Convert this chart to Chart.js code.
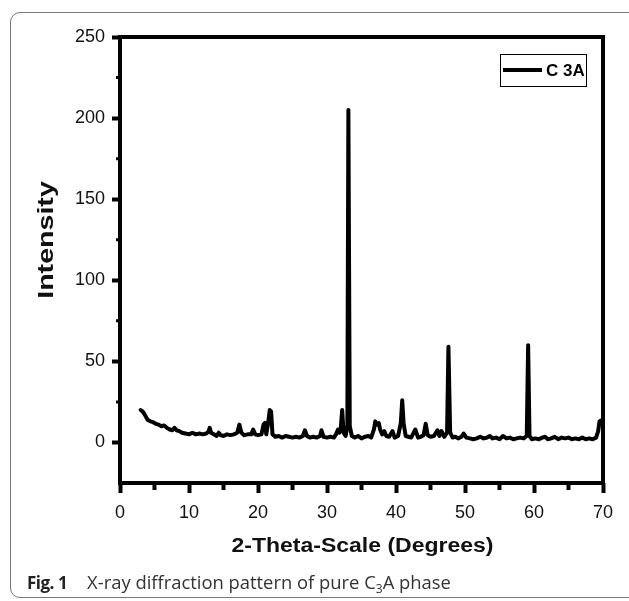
<!DOCTYPE html>
<html>
<head>
<meta charset="utf-8">
<script src="https://cdn.jsdelivr.net/npm/chart.js@4"></script>
<style>
  html, body { margin: 0; padding: 0; background: #fff; }
  body { width: 629px; height: 601px; position: relative; overflow: hidden; }
  #card { position: absolute; left: 10px; top: 12px; width: 660px; height: 586px; border: 1px solid #777; border-radius: 10px; box-sizing: border-box; }
  #wrap { position: absolute; left: 0; top: 0; width: 629px; height: 601px; }
  #caption { position: absolute; left: 27px; top: 569px; font-family: "Open Sans", sans-serif; font-size: 18.4px; color: #333; white-space: nowrap; }
  #caption b { color: #222; font-size: 17px; letter-spacing: -0.5px; margin-right: 20px; }
  #caption sub { font-size: 12px; vertical-align: -4px; line-height: 0; }
</style>
</head>
<body>
<div id="card"></div>
<div id="wrap"><canvas id="c"></canvas></div>
<div id="caption"><b>Fig. 1</b>X-ray diffraction pattern of pure C<sub>3</sub>A phase</div>
<script>
const seriesLabel = "C 3A";
const xTitle = "2-Theta-Scale (Degrees)";
const yTitle = "Intensity";
const theta = [
  3.0, 3.3, 3.6, 4.0, 4.4, 4.8, 5.2, 5.6, 6.0, 6.4, 6.8, 7.2, 7.6, 7.9, 8.2, 8.6, 9.0, 9.5, 10.0, 10.5,
  11.0, 11.5, 12.0, 12.5, 12.8, 13.0, 13.2, 13.6, 14.0, 14.3, 14.6, 15.0, 15.5, 16.0, 16.5, 17.0, 17.3, 17.6, 18.0, 18.5,
  19.0, 19.3, 19.6, 20.0, 20.5, 20.8, 21.0, 21.2, 21.5, 21.7, 21.9, 22.1, 22.5, 23.0, 23.5, 24.0, 24.5, 25.0, 25.5, 26.0,
  26.5, 26.8, 27.1, 27.5, 28.0, 28.5, 29.0, 29.2, 29.5, 30.0, 30.5, 31.0, 31.3, 31.6, 31.8, 32.0, 32.2, 32.4, 32.7, 32.95,
  33.1, 33.3, 33.6, 34.0, 34.5, 35.0, 35.5, 36.0, 36.4, 36.8, 37.0, 37.2, 37.5, 37.7, 38.0, 38.3, 38.6, 39.0, 39.5, 39.8,
  40.3, 40.7, 40.9, 41.1, 41.4, 41.8, 42.2, 42.8, 43.2, 43.6, 44.0, 44.3, 44.6, 45.0, 45.5, 46.0, 46.3, 46.6, 47.0, 47.4,
  47.6, 47.85, 48.2, 48.6, 49.0, 49.5, 49.8, 50.2, 50.7, 51.2, 51.7, 52.2, 52.7, 53.2, 53.6, 54.0, 54.5, 55.0, 55.5, 56.0,
  56.5, 57.0, 57.5, 58.0, 58.5, 58.95, 59.15, 59.35, 59.7, 60.2, 60.7, 61.2, 61.6, 62.0, 62.5, 63.0, 63.5, 64.0, 64.5, 65.0,
  65.5, 66.0, 66.5, 67.0, 67.5, 68.0, 68.5, 69.0, 69.3, 69.5, 69.7, 69.85
];
const intensity = [
  20, 19, 17, 14, 13, 12.5, 11.5, 11, 10, 10.5, 9, 8, 7.5, 9, 7.5, 7, 6, 5.5, 5, 6,
  5, 5.5, 5, 5.5, 6.5, 9, 6, 5, 4, 6, 4.5, 4, 5, 4.5, 5, 6, 11, 6, 4.5, 5,
  5, 8, 5, 4.5, 5, 11, 12, 5, 13, 20, 19, 5, 3.5, 4, 3, 4, 3.5, 3, 3.5, 3,
  4, 7.5, 4, 3, 3.5, 3, 4, 7.5, 3.5, 3, 3.5, 3, 5, 8, 6, 9, 20, 6, 4, 10,
  205, 10, 4, 3, 4, 2.5, 3.5, 4, 3, 8, 13, 11, 12, 8, 5, 7, 4, 3.5, 7, 3,
  4, 12, 26, 12, 4, 3.5, 3, 8, 3, 3.5, 4.5, 11.5, 4.5, 3.5, 4, 7.5, 4, 7, 3.5, 6,
  59, 6, 3, 3.5, 2.5, 3.5, 5.5, 3, 2.5, 2, 2.5, 3.5, 2.5, 3, 4, 2.5, 3, 2, 4, 2.5,
  3, 2, 2.5, 3, 2.5, 4, 60, 4, 2, 2.5, 2, 3, 3.5, 2, 2.5, 3.5, 2, 3, 2.5, 3,
  2, 2.5, 2, 3, 2, 2.5, 2, 3, 7, 13, 13.5, 12
];
const xTicks = [0, 10, 20, 30, 40, 50, 60, 70];
const xMinor = [5, 15, 25, 35, 45, 55, 65];
const yTicks = [0, 50, 100, 150, 200, 250];
const yMinor = [25, 75, 125, 175, 225];

const points = theta.map((t, i) => ({ x: t, y: intensity[i] }));
const FONT = "'Liberation Sans', Arial, sans-serif";

const framePlugin = {
  id: 'frame',
  afterDatasetsDraw(chart) {
    const { ctx, chartArea: a, scales } = chart;
    ctx.save();
    ctx.strokeStyle = '#000';
    ctx.lineWidth = 4;
    ctx.strokeRect(a.left, a.top, a.right - a.left, a.bottom - a.top);
    ctx.beginPath();
    xMinor.forEach(v => {
      const px = scales.x.getPixelForValue(v);
      ctx.moveTo(px, a.bottom); ctx.lineTo(px, a.bottom + 7);
    });
    ctx.stroke();
    ctx.lineWidth = 3;
    ctx.beginPath();
    yMinor.forEach(v => {
      const py = scales.y.getPixelForValue(v);
      ctx.moveTo(a.left, py); ctx.lineTo(a.left - 4, py);
    });
    ctx.stroke();

    // axis titles (slightly widened bold sans, as in the original)
    ctx.fillStyle = '#111';
    ctx.textAlign = 'center';
    ctx.textBaseline = 'middle';
    ctx.font = "bold 20px " + FONT;
    ctx.save();
    ctx.translate((a.left + a.right) / 2 + 1, a.bottom + 63);
    ctx.scale(1.15, 1);
    ctx.fillText(xTitle, 0, 0);
    ctx.restore();
    ctx.font = "bold 22px " + FONT;
    ctx.save();
    ctx.translate(a.left - 73, (a.top + a.bottom) / 2 - 20);
    ctx.rotate(-Math.PI / 2);
    ctx.scale(1.3, 1);
    ctx.fillText(yTitle, 0, 0);
    ctx.restore();

    // legend
    const ds = chart.data.datasets[0];
    const bx = a.right - 103, by = a.top + 17, bw = 86, bh = 32;
    ctx.fillStyle = '#fff';
    ctx.fillRect(bx, by, bw, bh);
    ctx.lineWidth = 1;
    ctx.strokeStyle = '#000';
    ctx.strokeRect(bx + 0.5, by + 0.5, bw, bh);
    ctx.lineWidth = 4;
    ctx.strokeStyle = ds.borderColor;
    ctx.beginPath();
    ctx.moveTo(bx + 3, by + bh / 2); ctx.lineTo(bx + 42, by + bh / 2);
    ctx.stroke();
    ctx.fillStyle = '#000';
    ctx.font = "bold 17px " + FONT;
    ctx.textBaseline = 'middle';
    ctx.textAlign = 'left';
    ctx.fillText(ds.label, bx + 46, by + bh / 2 + 1);
    ctx.restore();
  }
};

new Chart(document.getElementById('c'), {
  type: 'line',
  data: {
    datasets: [{
      label: seriesLabel,
      data: points,
      borderColor: '#000',
      borderWidth: 4,
      pointRadius: 0,
      tension: 0,
      borderJoinStyle: 'round',
      borderCapStyle: 'round',
      fill: false
    }]
  },
  options: {
    responsive: true,
    maintainAspectRatio: false,
    animation: false,
    layout: { padding: { left: 0, top: 37, right: 26, bottom: 38 } },
    plugins: { legend: { display: false }, tooltip: { enabled: false } },
    scales: {
      x: {
        type: 'linear',
        min: 0, max: 70,
        afterBuildTicks: s => { s.ticks = xTicks.map(v => ({ value: v })); },
        afterFit: s => { s.height = 80; },
        border: { display: false },
        grid: { drawOnChartArea: false, drawTicks: true, tickLength: 10, tickWidth: 4, tickColor: '#000' },
        ticks: { color: '#111', font: { family: FONT, size: 18 }, padding: 9, maxRotation: 0 },
        title: { display: false, text: xTitle }
      },
      y: {
        type: 'linear',
        min: -25, max: 250,
        afterBuildTicks: s => { s.ticks = yTicks.map(v => ({ value: v })); },
        afterFit: s => { s.width = 120; },
        border: { display: false },
        grid: { drawOnChartArea: false, drawTicks: true, tickLength: 8, tickWidth: 4, tickColor: '#000' },
        ticks: { color: '#111', font: { family: FONT, size: 18 }, padding: 7 },
        title: { display: false, text: yTitle }
      }
    }
  },
  plugins: [framePlugin]
});
</script>
</body>
</html>
